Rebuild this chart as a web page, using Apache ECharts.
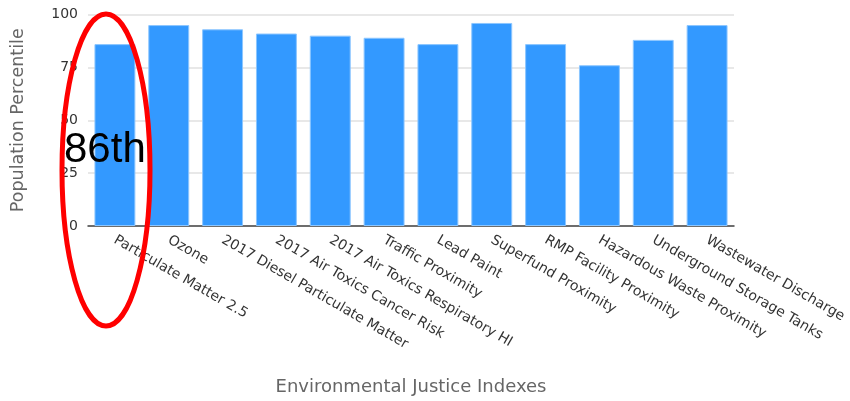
<!DOCTYPE html>
<html>
<head>
<meta charset="utf-8">
<script src="https://cdn.jsdelivr.net/npm/echarts@6/dist/echarts.min.js"></script>
<style>html,body{margin:0;padding:0;background:#fff;}#c{width:850px;height:401px;}</style>
</head>
<body>
<div id="c"></div>
<script>
const categories = ["Particulate Matter 2.5","Ozone","2017 Diesel Particulate Matter","2017 Air Toxics Cancer Risk","2017 Air Toxics Respiratory HI","Traffic Proximity","Lead Paint","Superfund Proximity","RMP Facility Proximity","Hazardous Waste Proximity","Underground Storage Tanks","Wastewater Discharge"];
const percentiles = [86, 95, 93, 91, 90, 89, 86, 96, 86, 76, 88, 95];
const yTicks = [0, 25, 50, 75, 100];
const calloutText = "86th";

const chart = echarts.init(document.getElementById('c'), null, {renderer: 'canvas'});
chart.setOption({
  animation: false,
  backgroundColor: '#fff',
  grid: {left: 88, right: 116, top: 14.5, bottom: 169, containLabel: false},
  xAxis: {
    type: 'category',
    data: categories,
    name: 'Environmental Justice Indexes',
    nameLocation: 'middle',
    nameGap: 152,
    nameTextStyle: {fontFamily: 'DejaVu Sans', fontSize: 18, color: '#666'},
    axisLine: {show: true, lineStyle: {color: '#444', width: 1.5}},
    axisTick: {show: false},
    axisLabel: {rotate: -30, interval: 0, margin: 13, fontFamily: 'DejaVu Sans', fontSize: 14, color: '#333'}
  },
  yAxis: {
    type: 'value',
    min: yTicks[0], max: yTicks[yTicks.length - 1], interval: 25,
    name: 'Population Percentile',
    nameLocation: 'middle',
    nameGap: 61,
    nameTextStyle: {fontFamily: 'DejaVu Sans', fontSize: 17.5, color: '#666'},
    axisLine: {show: false},
    axisTick: {show: false},
    axisLabel: {margin: 10, fontFamily: 'DejaVu Sans', fontSize: 14, color: '#333'},
    splitLine: {lineStyle: {color: '#e0e0e0', width: 1.5}}
  },
  series: [{
    type: 'bar',
    data: percentiles,
    barWidth: '76%',
    itemStyle: {color: '#3399ff', borderColor: '#8cc6ff', borderWidth: 1}
  }],
  graphic: [
    {type: 'ellipse', shape: {cx: 106, cy: 170, rx: 44, ry: 156}, style: {fill: 'none', stroke: '#ff0000', lineWidth: 5}, z: 100},
    {type: 'text', left: 64, top: 129, style: {text: calloutText, font: '42px "Liberation Sans", Arial, sans-serif', fill: '#000'}, z: 101}
  ]
});
</script>
</body>
</html>
